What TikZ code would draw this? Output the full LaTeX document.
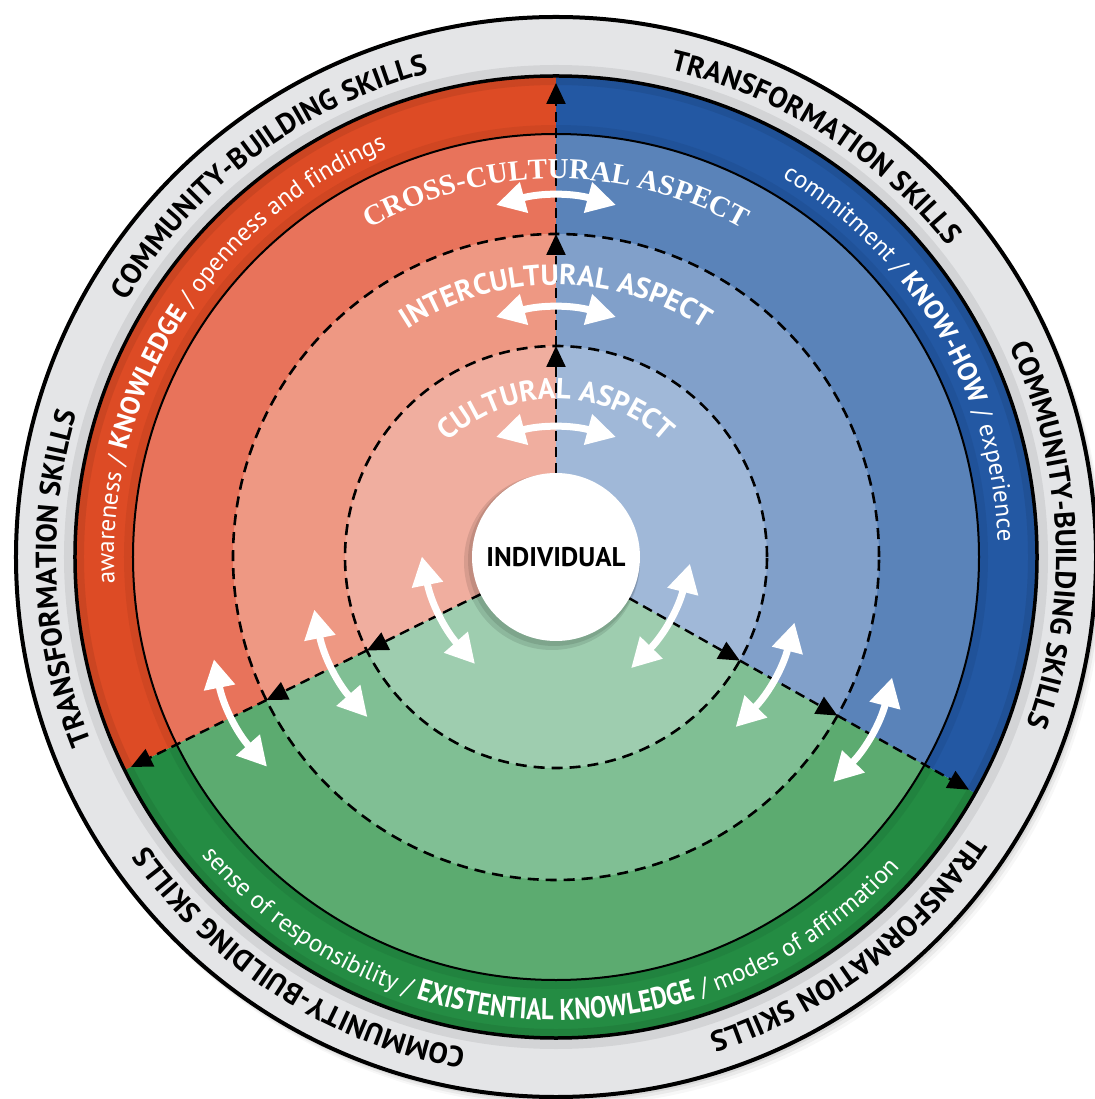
\documentclass[tikz,border=0pt]{standalone}
\usepackage{fontspec}
\setmainfont{PT Sans}
\newfontfamily\serifb{Liberation Serif}
\newfontfamily\condf[FakeStretch=0.82]{PT Sans}
\usetikzlibrary{arrows.meta,decorations.text,calc}
\definecolor{ringgray}{HTML}{E4E5E7}
\definecolor{redA}{HTML}{DD4B25}
\definecolor{redB}{HTML}{E8735B}
\definecolor{redC}{HTML}{EE9883}
\definecolor{redD}{HTML}{F0AE9F}
\definecolor{blueA}{HTML}{2358A3}
\definecolor{blueB}{HTML}{5A83B9}
\definecolor{blueC}{HTML}{81A0CA}
\definecolor{blueD}{HTML}{A0B8D8}
\definecolor{greenA}{HTML}{248C43}
\definecolor{greenB}{HTML}{5CAB70}
\definecolor{greenC}{HTML}{80BF94}
\definecolor{greenD}{HTML}{9ECDAF}
\newcommand\fRing{\fontsize{29}{32}\selectfont\bfseries}
\newcommand\fBand{\fontsize{25}{28}\selectfont\mdseries}
\newcommand\fBandB{\fontsize{27}{30}\selectfont\bfseries}
\newcommand\fCond{\fontsize{30}{33}\selectfont\condf\bfseries}
\newcommand\fCross{\fontsize{29}{32}\selectfont\serifb\bfseries}
\newcommand\fAsp{\fontsize{29}{32}\selectfont\bfseries}
\newcommand\arctext[5]{% center angle, radius, half span (signed), color, text
  \pgfmathsetmacro\atSa{#1+#3}\pgfmathsetmacro\atEa{#1-#3}%
  \path[decorate,decoration={text along path,text align=center,text color=#4,text={#5}}]
    (\atSa:#2) arc (\atSa:\atEa:#2);}
\tikzset{
  dashc/.style={line width=2.6, dash pattern=on 11pt off 7pt},
  bdash/.style={line width=2.4, dash pattern=on 10pt off 6pt, -{Triangle[length=21pt,width=19pt]}},
  warrow/.style={white, line width=7, {Triangle[length=29pt,width=30pt]}-{Triangle[length=29pt,width=30pt]}},
}
\begin{document}
\begin{tikzpicture}[x=1pt,y=1pt]
\useasboundingbox (-556,-542) rectangle (538,557);
\fill[white] (-556,-542) rectangle (538,557);
% shadow of the outer ring
\foreach \s/\o in {12/0.03,8/0.05,4/0.07}
  \fill[black,opacity=\o] (\s*0.5,-\s*0.7) circle (541);
\fill[ringgray] (0,0) circle (540);
\draw[black,opacity=0.07,line width=10] (0,0) circle (487);
\draw[line width=4] (0,0) circle (540);
% sectors
\foreach \R/\cr/\cg/\cb in {481/redA/greenA/blueA, 423/redB/greenB/blueB, 323/redC/greenC/blueC, 211/redD/greenD/blueD} {
  \fill[\cr] (0,0) -- (90:\R) arc (90:206.3:\R) -- cycle;
  \fill[\cg] (0,0) -- (206.3:\R) arc (206.3:330.6:\R) -- cycle;
  \fill[\cb] (0,0) -- (-29.4:\R) arc (-29.4:90:\R) -- cycle;
}
% soft inner shading of the outer band
\draw[black,opacity=0.08,line width=8] (0,0) circle (476);
\draw[black,opacity=0.06,line width=8] (0,0) circle (428);
% circles
\draw[line width=3.5] (0,0) circle (481);
\draw[line width=2] (0,0) circle (423);
\draw[dashc] (0,0) circle (323);
\draw[dashc] (0,0) circle (211);
% boundary lines with arrow heads
\foreach \a in {90,206.3,330.6} {
  \draw[bdash] (\a:84) -- (\a:211);
  \draw[bdash] (\a:211) -- (\a:323);
  \draw[bdash] (\a:323) -- (\a:474);
}
% white double arrows
\foreach \a in {90,206.3,330.6} {
  \foreach \R in {120,240,352} {
    \draw[warrow] ($(\a:\R)+(\a+90:60)$) to[bend left=15] ($(\a:\R)+(\a-90:60)$);
  }
}
% individual
\fill[black,opacity=0.10] (-4,-5) circle (88);
\fill[black,opacity=0.10] (-2,-3) circle (86);
\node[circle,fill=white,minimum size=168pt,inner sep=0pt] (ind) at (0,0) {};
\node[font=\fontsize{27}{30}\selectfont\bfseries] (indtext) at (0,0) {INDIVIDUAL};
% ring texts
\arctext{127}{500}{45}{black}{|\fRing|COMMUNITY-BUILDING SKILLS}
\arctext{57.6}{500}{45}{black}{|\fRing|TRANSFORMATION SKILLS}
\arctext{2.6}{500}{45}{black}{|\fRing|COMMUNITY-BUILDING SKILLS}
\arctext{-53}{500}{45}{black}{|\fRing|TRANSFORMATION SKILLS}
\arctext{-122.6}{500}{45}{black}{|\fRing|COMMUNITY-BUILDING SKILLS}
\arctext{182.5}{500}{45}{black}{|\fRing|TRANSFORMATION SKILLS}
% band texts
\arctext{148}{442}{55}{white}{|\fBand|awareness / |\fBandB|KNOWLEDGE|\fBand| / openness and findings}
\arctext{30.6}{442}{55}{white}{|\fBand|commitment / |\fBandB|KNOW-HOW|\fBand| / experience}
\arctext{-91}{463}{-70}{white}{|\fBand|sense of responsibility / |\fCond|EXISTENTIAL KNOWLEDGE|\fBand| / modes of affirmation}
% aspect texts
\arctext{90}{378}{60}{white}{|\fCross|CROSS-CULTURAL ASPECT}
\arctext{90}{272}{65}{white}{|\fAsp|INTERCULTURAL ASPECT}
\arctext{90}{158}{75}{white}{|\fAsp|CULTURAL ASPECT}
\end{tikzpicture}
\end{document}
